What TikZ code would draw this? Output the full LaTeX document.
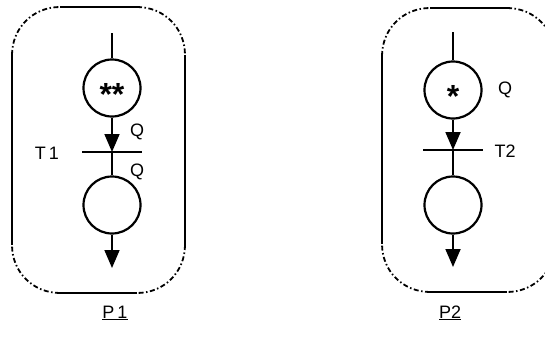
\documentclass[tikz,border=0pt]{standalone}
\usepackage{fontspec}
\setmainfont{Liberation Sans}
\usetikzlibrary{arrows.meta}
\tikzset{
  place/.style={circle, draw, line width=2.2pt, minimum size=57pt, inner sep=0pt},
  bar/.style={rectangle, fill=black, minimum width=60pt, minimum height=2.2pt, inner sep=0pt},
  arc/.style={line width=1.8pt},
  flow/.style={line width=1.8pt, -{Triangle[length=18pt,width=15pt]}},
  lbl/.style={font=\fontsize{18}{18}\selectfont, inner sep=0pt},
  token/.style={font=\bfseries\fontsize{32}{32}\selectfont, inner sep=0pt, anchor=base},
  side/.style={line width=2pt},
  corner/.style={line width=1.8pt, dash pattern=on 5pt off 2.5pt on 1.5pt off 2.5pt},
}
\begin{document}
\begin{tikzpicture}[x=1pt, y=-1pt]
\useasboundingbox (0,0) rectangle (545,340);
\clip (0,0) rectangle (545,340);

% ---------- process P1 ----------
\draw[side] (60,7) -- (137,7);
\draw[side] (185,55) -- (185,245);
\draw[side] (137,293) -- (60,293);
\draw[side] (12,245) -- (12,55);
\draw[corner] (12,55) .. controls (12,28) and (33,7) .. (60,7);
\draw[corner] (137,7) .. controls (164,7) and (185,28) .. (185,55);
\draw[corner] (185,245) .. controls (185,272) and (164,293) .. (137,293);
\draw[corner] (60,293) .. controls (33,293) and (12,272) .. (12,245);

\coordinate (in1) at (112,33);
\node[place] (a1) at (112,88) {};
\node[token] (k1) at (112,105) {**};
\node[bar] (t1) at (112,152) {};
\node[place] (b1) at (112,205) {};
\coordinate (out1) at (112,268);
\draw[arc] (in1) -- (a1);
\draw[flow] (a1) -- (t1.center);
\draw[arc] (t1.center) -- (b1);
\draw[flow] (b1) -- (out1);
\node[lbl] (q1) at (137,132) {Q};
\node[lbl] (q2) at (137,172) {Q};
\node[lbl] (n1) at (47,153) {T\kern3pt1};
\node[lbl] (p1) at (115,313) {\underline{P\kern3pt1}};

% ---------- process P2 ----------
\draw[side] (430,8) -- (507,8);
\draw[side] (382,56) -- (382,244);
\draw[side] (430,292) -- (507,292);
\draw[corner] (382,56) .. controls (382,29) and (403,8) .. (430,8);
\draw[corner] (507,8) .. controls (534,8) and (555,29) .. (555,56);
\draw[corner] (555,244) .. controls (555,271) and (534,292) .. (507,292);
\draw[corner] (430,292) .. controls (403,292) and (382,271) .. (382,244);

\coordinate (in2) at (453,32);
\node[place] (a2) at (453,90) {};
\node[token] (k2) at (453,107) {*};
\node[bar] (t2) at (453,150) {};
\node[place] (b2) at (453,205) {};
\coordinate (out2) at (453,267);
\draw[arc] (in2) -- (a2);
\draw[flow] (a2) -- (t2.center);
\draw[arc] (t2.center) -- (b2);
\draw[flow] (b2) -- (out2);
\node[lbl] (q3) at (505,90) {Q};
\node[lbl] (n2) at (505,151) {T2};
\node[lbl] (p2) at (450,313) {\underline{P2}};
\end{tikzpicture}
\end{document}
